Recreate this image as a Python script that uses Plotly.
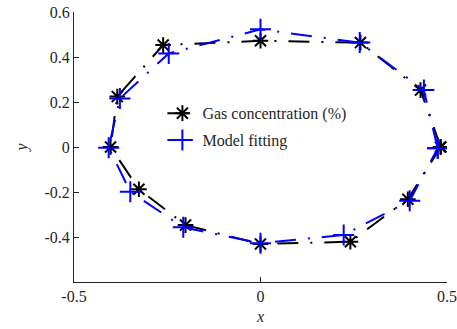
import plotly.graph_objects as go

# Gas concentration (%) — measured ellipse points (counter-clockwise from angle 0)
gas_x = [0.483, 0.429, 0.268, 0.000, -0.261, -0.384, -0.402, -0.326, -0.201, 0.000, 0.241, 0.395]
gas_y = [0.000, 0.253, 0.464, 0.472, 0.453, 0.224, 0.000, -0.188, -0.347, -0.431, -0.421, -0.232]

# Model fitting
fit_x = [0.475, 0.438, 0.266, 0.000, -0.246, -0.377, -0.407, -0.349, -0.207, 0.000, 0.223, 0.400]
fit_y = [-0.006, 0.253, 0.464, 0.523, 0.416, 0.216, -0.003, -0.199, -0.357, -0.428, -0.391, -0.239]

x_ticks = [-0.5, 0, 0.5]
x_ticklabels = ["-0.5", "0", "0.5"]
y_ticks = [-0.4, -0.2, 0, 0.2, 0.4, 0.6]
y_ticklabels = ["-0.4", "-0.2", "0", "0.2", "0.4", "0.6"]

DASH = "21px,12px,2px,12px"
FONT = "Liberation Serif"
TXT = "#262626"

fig = go.Figure()
fig.add_trace(go.Scatter(
    x=gas_x + gas_x[:1], y=gas_y + gas_y[:1],
    mode="lines+markers", name="Gas concentration (%)", legendgroup="g1",
    line=dict(color="#000000", width=2, dash=DASH),
    marker=dict(symbol="asterisk-open", size=13, color="#000000",
                line=dict(color="#000000", width=2)),
))
fig.add_trace(go.Scatter(
    x=fit_x + fit_x[:1], y=fit_y + fit_y[:1],
    mode="lines+markers", name="Model fitting", legendgroup="g2",
    line=dict(color="#0000FF", width=2, dash=DASH),
    marker=dict(symbol="cross-thin-open", size=15, color="#0000FF",
                line=dict(color="#0000FF", width=2)),
))

axis_common = dict(
    showgrid=False, zeroline=False, showline=True, linecolor=TXT, linewidth=1,
    ticks="inside", ticklen=5, tickcolor=TXT, tickwidth=1, automargin=False,
    tickfont=dict(family=FONT, size=16, color=TXT),
)

fig.update_layout(
    width=457, height=329,
    margin=dict(l=74, r=10, t=12, b=47),
    paper_bgcolor="white", plot_bgcolor="white",
    font=dict(family=FONT, size=16, color=TXT),
    showlegend=True,
    legend=dict(x=0.237, y=0.575, xanchor="left", yanchor="middle",
                bgcolor="rgba(0,0,0,0)", font=dict(family=FONT, size=16, color=TXT),
                tracegroupgap=3),
    xaxis=dict(range=[-0.5, 0.5], tickvals=x_ticks, ticktext=x_ticklabels,
               title=dict(text="<i>x</i>", font=dict(family=FONT, size=16, color=TXT), standoff=6),
               **axis_common),
    yaxis=dict(range=[-0.6, 0.6], tickvals=y_ticks, ticktext=y_ticklabels,
               title=dict(text="<i>y</i>", font=dict(family=FONT, size=16, color=TXT), standoff=12),
               **axis_common),
)

fig.write_html("out.html", config={"displayModeBar": False},
               post_script="document.body.style.margin='0';")
